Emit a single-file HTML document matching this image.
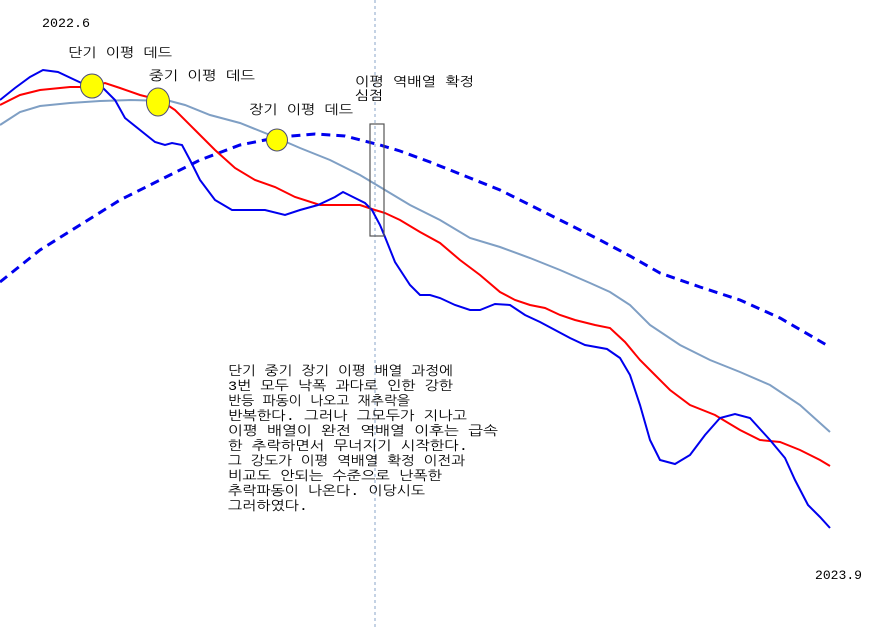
<!DOCTYPE html>
<html><head><meta charset="utf-8"><style>
body{margin:0;background:#fff}
svg{display:block}
text{font-family:"Liberation Mono","NanumGothic","Noto Sans CJK KR",monospace;font-size:13px;fill:#000}
</style></head><body>
<svg width="890" height="627" viewBox="0 0 890 627" xmlns="http://www.w3.org/2000/svg">
<line x1="375" y1="0" x2="375" y2="627" stroke="#8aa4c8" stroke-width="1" stroke-dasharray="3,3"/>
<polyline fill="none" stroke="#0000ee" stroke-width="3" stroke-dasharray="9,6" points="0,282 40,250 80,225 120,200 160,180 200,160 240,145 280,137 315,134 345,136 380,145 400,151 430,162 470,178 500,190 530,205 560,220 600,240 630,256 660,273 700,287 740,300 780,318 830,347"/>
<polyline fill="none" stroke="#7f9fc4" stroke-width="2" points="0,125 20,112 40,106 70,103 100,101 130,100 170,101 185,105 210,115 240,123 270,135 300,148 330,160 360,175 385,190 410,205 440,220 470,238 500,247 530,258 560,270 590,283 610,292 630,305 650,325 680,345 710,360 740,372 770,385 800,405 830,432"/>
<polyline fill="none" stroke="#ff0000" stroke-width="2" points="0,105 20,95 40,90 70,87 90,87 105,83 120,88 140,95 160,100 175,110 195,130 215,150 235,168 255,180 275,187 295,197 320,205 340,205 360,205 375,210 385,213 400,220 420,232 440,243 460,260 480,275 500,292 515,300 530,305 545,308 560,315 575,320 595,325 610,328 625,342 640,360 655,375 670,390 690,405 715,415 740,430 760,440 780,442 800,450 820,460 830,466"/>
<polyline fill="none" stroke="#0000ee" stroke-width="2" points="0,100 15,88 30,77 43,70 58,72 75,80 90,87 100,85 115,100 125,118 140,130 155,142 165,145 172,143 182,145 190,160 200,180 215,200 232,210 250,210 265,210 285,215 300,210 318,205 335,197 343,192 355,198 365,203 372,210 380,225 385,237 395,262 410,285 420,295 430,295 440,298 455,305 470,310 480,310 495,304 510,305 525,315 540,322 555,330 570,338 585,345 607,349 620,358 630,375 640,405 650,440 660,460 675,464 690,455 705,435 720,418 735,414 750,418 770,440 785,458 795,480 808,505 820,517 830,528"/>
<ellipse cx="92" cy="86" rx="11.5" ry="12" fill="#ffff00" stroke="#4b4b7a" stroke-width="1"/>
<ellipse cx="158" cy="102" rx="11.5" ry="14" fill="#ffff00" stroke="#4b4b7a" stroke-width="1"/>
<ellipse cx="277" cy="140" rx="10.5" ry="11" fill="#ffff00" stroke="#4b4b7a" stroke-width="1"/>
<rect x="370" y="124" width="14" height="112" fill="none" stroke="#555" stroke-width="1.2"/>
<text x="42" y="27" textLength="48" lengthAdjust="spacingAndGlyphs">2022.6</text>
<text x="68" y="57" textLength="104" lengthAdjust="spacingAndGlyphs">단기 이평 데드</text>
<text x="149" y="80" textLength="106" lengthAdjust="spacingAndGlyphs">중기 이평 데드</text>
<text x="249" y="114" textLength="104" lengthAdjust="spacingAndGlyphs">장기 이평 데드</text>
<text x="355" y="86" textLength="119" lengthAdjust="spacingAndGlyphs">이평 역배열 확정</text>
<text x="355" y="100" textLength="28" lengthAdjust="spacingAndGlyphs">심점</text>
<text x="815" y="579" textLength="47" lengthAdjust="spacingAndGlyphs">2023.9</text>
<g>
<text x="228" y="375" textLength="225" lengthAdjust="spacingAndGlyphs">단기 중기 장기 이평 배열 과정에</text>
<text x="228" y="390" textLength="225" lengthAdjust="spacingAndGlyphs">3번 모두 낙폭 과다로 인한 강한</text>
<text x="228" y="405" textLength="182" lengthAdjust="spacingAndGlyphs">반등 파동이 나오고 재추락을</text>
<text x="228" y="420" textLength="239" lengthAdjust="spacingAndGlyphs">반복한다. 그러나 그모두가 지나고</text>
<text x="228" y="435" textLength="270" lengthAdjust="spacingAndGlyphs">이평 배열이 완전 역배열 이후는  급속</text>
<text x="228" y="450" textLength="240" lengthAdjust="spacingAndGlyphs">한 추락하면서 무너지기 시작한다.</text>
<text x="228" y="465" textLength="237" lengthAdjust="spacingAndGlyphs">그 강도가 이평 역배열 확정 이전과</text>
<text x="228" y="480" textLength="214" lengthAdjust="spacingAndGlyphs">비교도 안되는 수준으로 난폭한</text>
<text x="228" y="495" textLength="197" lengthAdjust="spacingAndGlyphs">추락파동이 나온다. 이당시도</text>
<text x="228" y="510" textLength="80" lengthAdjust="spacingAndGlyphs">그러하였다.</text>
</g>
</svg>
</body></html>
